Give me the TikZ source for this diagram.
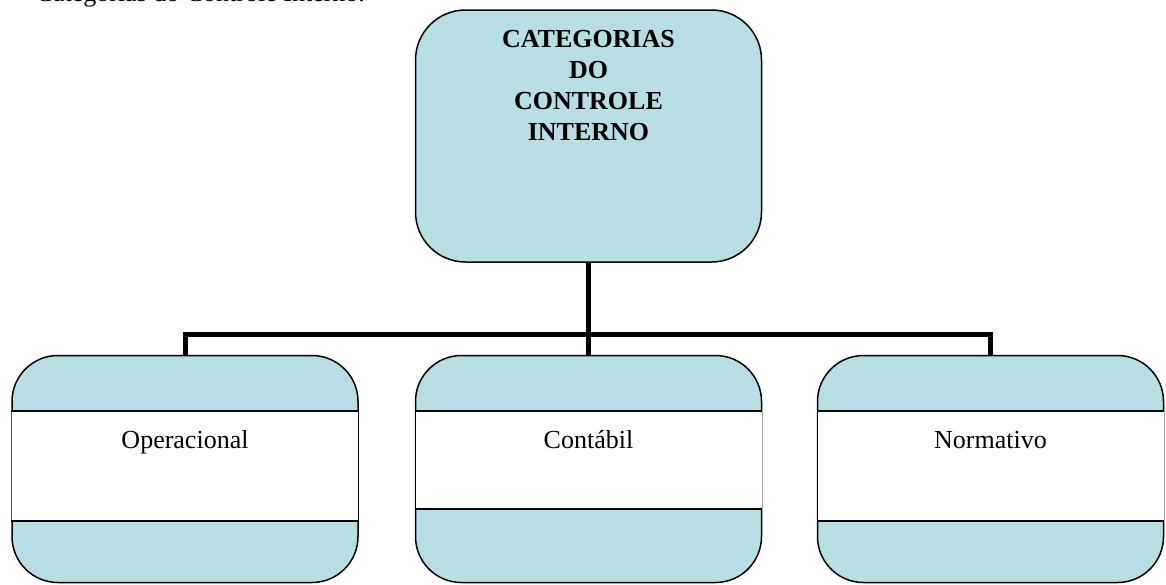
\documentclass[tikz,border=0pt]{standalone}
\usepackage{fontspec}
\setmainfont{Liberation Serif}
\definecolor{boxblue}{RGB}{183,222,226}

\begin{document}
\begin{tikzpicture}[x = 1pt, y = -1pt, box/.style = {draw, line width = 1.5pt, fill = boxblue, rounded corners = 46pt, minimum width = 346pt, minimum height = 227pt, inner sep = 0pt}, conn/.style = {line width = 5pt}, every node/.style = {font = \fontsize{26}{30}\selectfont, inner sep = 0pt}]
    \clip (0, 0) rectangle (1166, 584);
    \node[anchor = base west] (cap) at (16, 1) {-- Categorias do Controle Interno.};
    \node[box, rounded corners = 50pt, minimum height = 252pt] (top) at (588.5, 136) {};
    \node[box] (op) at (185, 469) {};
    \node[box] (cont) at (588.5, 469) {};
    \node[box] (norm) at (990.5, 469) {};
    \coordinate (bt) at (0, 411);
    \coordinate (lb) at (0, 448);
    \foreach \n/\b/\t in {op/521/Operacional, cont/509/Contábil, norm/521/Normativo} {
        \coordinate (bb) at (0, \b);
        \fill[white] ([xshift = 0.75pt]\n.west |- bt) rectangle ([xshift = -0.75pt]\n.east |- bb);
        \draw[line width = 1.5pt] (\n.west |- bt) -- (\n.east |- bt) (\n.west |- bb) -- (\n.east |- bb);
        \node[anchor = base] (\n lab) at (\n.center |- lb) {\t};
    }
    \node[anchor = north, align = center, font = \bfseries\fontsize{26}{31}\selectfont] (toplab) at ([yshift = -21pt]top.north) {CATEGORIAS\\DO\\CONTROLE\\INTERNO};
    \coordinate (bar) at (588.5, 334);
    \draw[conn] (top.south) -- (bar) -- (cont.north);
    \draw[conn] (op.north) |- (bar) -| (norm.north);
\end{tikzpicture}
\end{document}
